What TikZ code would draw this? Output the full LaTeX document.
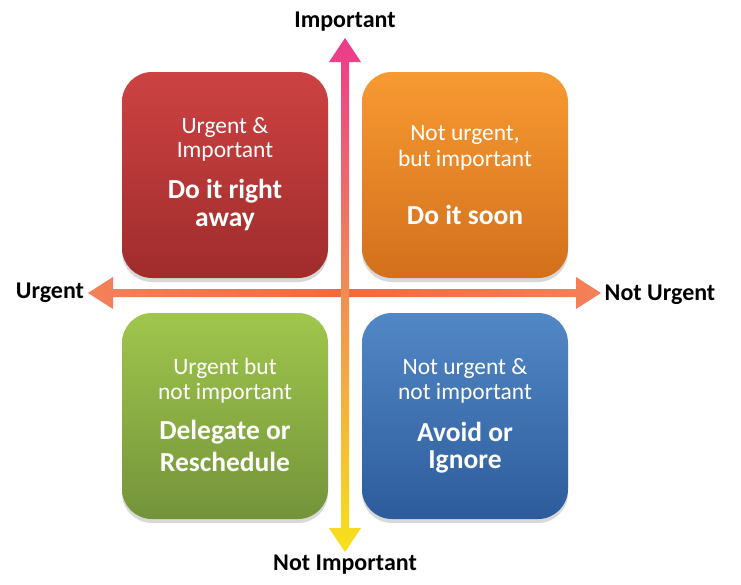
\documentclass[tikz,border=0pt]{standalone}
\usepackage{fontspec}
\setmainfont{Carlito}
\usetikzlibrary{shadows}
\definecolor{redT}{HTML}{CD4242}
\definecolor{redB}{HTML}{A02C2C}
\definecolor{orT}{HTML}{F89A32}
\definecolor{orB}{HTML}{D2701C}
\definecolor{grT}{HTML}{A0C64C}
\definecolor{grB}{HTML}{74933A}
\definecolor{blT}{HTML}{5287C6}
\definecolor{blB}{HTML}{2D5C9C}
\definecolor{axPink}{HTML}{EC3A8C}
\definecolor{axOr}{HTML}{F26A3C}
\definecolor{axYel}{HTML}{F7E21A}
\begin{document}
\begin{tikzpicture}[x=1pt,y=-1pt,
  quad/.style={minimum width=206pt,minimum height=206pt,rounded corners=30pt,inner sep=0pt,
    drop shadow={shadow xshift=0pt,shadow yshift=-4pt,opacity=0.3}},
  light/.style={text=white,font=\fontsize{23.5}{26}\selectfont,inner sep=0pt},
  heavy/.style={text=white,font=\fontsize{27.5}{31}\bfseries\selectfont,inner sep=0pt},
  axlabel/.style={text=black,font=\fontsize{24}{28}\bfseries\selectfont,inner sep=0pt}]
\useasboundingbox (0,0) rectangle (741,584);
\fill[white] (0,0) rectangle (741,584);

% quadrant boxes
\node[quad,top color=redT,bottom color=redB] (q1) at (225,175) {};
\node[quad,top color=orT,bottom color=orB] (q2) at (465,175) {};
\node[quad,top color=grT,bottom color=grB] (q3) at (225,416) {};
\node[quad,top color=blT,bottom color=blB] (q4) at (465,416) {};

% texts
\node[light] (t1a) at (225,127) {Urgent \&};
\node[light] (t1b) at (225,152) {Important};
\node[heavy] (t1c) at (225,191) {Do it right};
\node[heavy] (t1d) at (225,222) {away};

\node[light] (t2a) at (465,135) {Not urgent,};
\node[light] (t2b) at (465,160) {but important};
\node[heavy] (t2c) at (465,215) {Do it soon};

\node[light] (t3a) at (225,368) {Urgent but};
\node[light] (t3b) at (225,393) {not important};
\node[heavy] (t3c) at (225,432) {Delegate or};
\node[heavy] (t3d) at (225,462) {Reschedule};

\node[light] (t4a) at (465,368) {Not urgent \&};
\node[light] (t4b) at (465,393) {not important};
\node[heavy] (t4c) at (465,432) {Avoid or};
\node[heavy] (t4d) at (465,462) {Ignore};

% horizontal axis
\coordinate (hl) at (88,293);
\coordinate (hr) at (601,293);
\shade[left color=axOr!85!white,right color=axOr!85!white,middle color=axOr]
  (hl) -- (113,277) -- (113,289) -- (576,289) -- (576,277) -- (hr)
  -- (576,309) -- (576,297) -- (113,297) -- (113,309) -- cycle;
% vertical axis
\coordinate (vt) at (345,38);
\coordinate (vb) at (345,552);
\shade[top color=axPink,middle color=axOr,bottom color=axYel]
  (vt) -- (361,62) -- (349,62) -- (349,528) -- (361,528) -- (vb)
  -- (329,528) -- (341,528) -- (341,62) -- (329,62) -- cycle;

% axis labels
\node[axlabel] (lt) at (345,22) {Important};
\node[axlabel] (lb) at (345,565) {Not Important};
\node[axlabel] (ll) at (50,293) {Urgent};
\node[axlabel] (lr) at (660,295) {Not Urgent};
\end{tikzpicture}
\end{document}
